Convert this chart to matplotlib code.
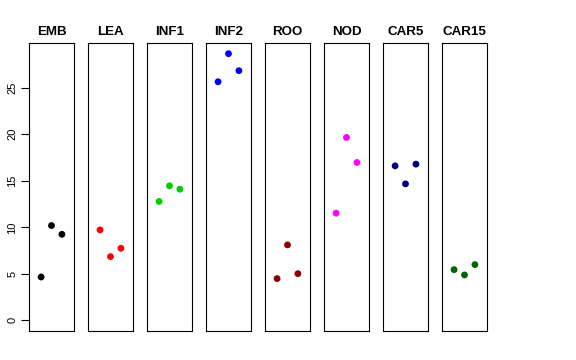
import numpy as np
import matplotlib
matplotlib.use("Agg")
import matplotlib.pyplot as plt

plt.rcParams["font.family"] = ["Liberation Sans", "DejaVu Sans"]

tissues = ["EMB", "LEA", "INF1", "INF2", "ROO", "NOD", "CAR5", "CAR15"]
colors = ["black", "red", "#00CD00", "blue", "#8B0000", "magenta", "#000080", "#006400"]
reps = [1, 2, 3]
values = [
    [4.66, 10.19, 9.25],
    [9.72, 6.85, 7.75],
    [12.78, 14.46, 14.10],
    [25.65, 28.67, 26.84],
    [4.49, 8.11, 5.02],
    [11.52, 19.66, 16.97],
    [16.61, 14.67, 16.79],
    [5.45, 4.88, 5.99],
]
yticks = [0, 5, 10, 15, 20, 25]

W, H = 576, 360
fig = plt.figure(figsize=(W / 100, H / 100), dpi=100)

ymax = max(max(v) for v in values)
ypad = 0.04 * ymax
xpad = 0.04 * 4

for i, (name, col, vals) in enumerate(zip(tissues, colors, values)):
    left = 29 + i * 59
    ax = fig.add_axes([left / W, 29 / H, 45 / W, 288 / H])
    ax.scatter(reps, vals, s=24, color=col, edgecolors="none", zorder=3)
    ax.set_xlim(0 - xpad, 4 + xpad)
    ax.set_ylim(0 - ypad, ymax + ypad)
    ax.set_xticks([])
    ax.set_title(name, fontsize=9.6, fontweight="bold", pad=5.5)
    for sp in ax.spines.values():
        sp.set_linewidth(0.8)
        sp.set_color("black")
    if i == 0:
        ax.set_yticks(yticks)
        ax.set_yticklabels([str(t) for t in yticks], rotation=90, va="center", fontsize=8)
        ax.tick_params(axis="y", length=5.5, width=0.8, pad=3)
    else:
        ax.set_yticks([])

fig.savefig("out.png", dpi=100)
